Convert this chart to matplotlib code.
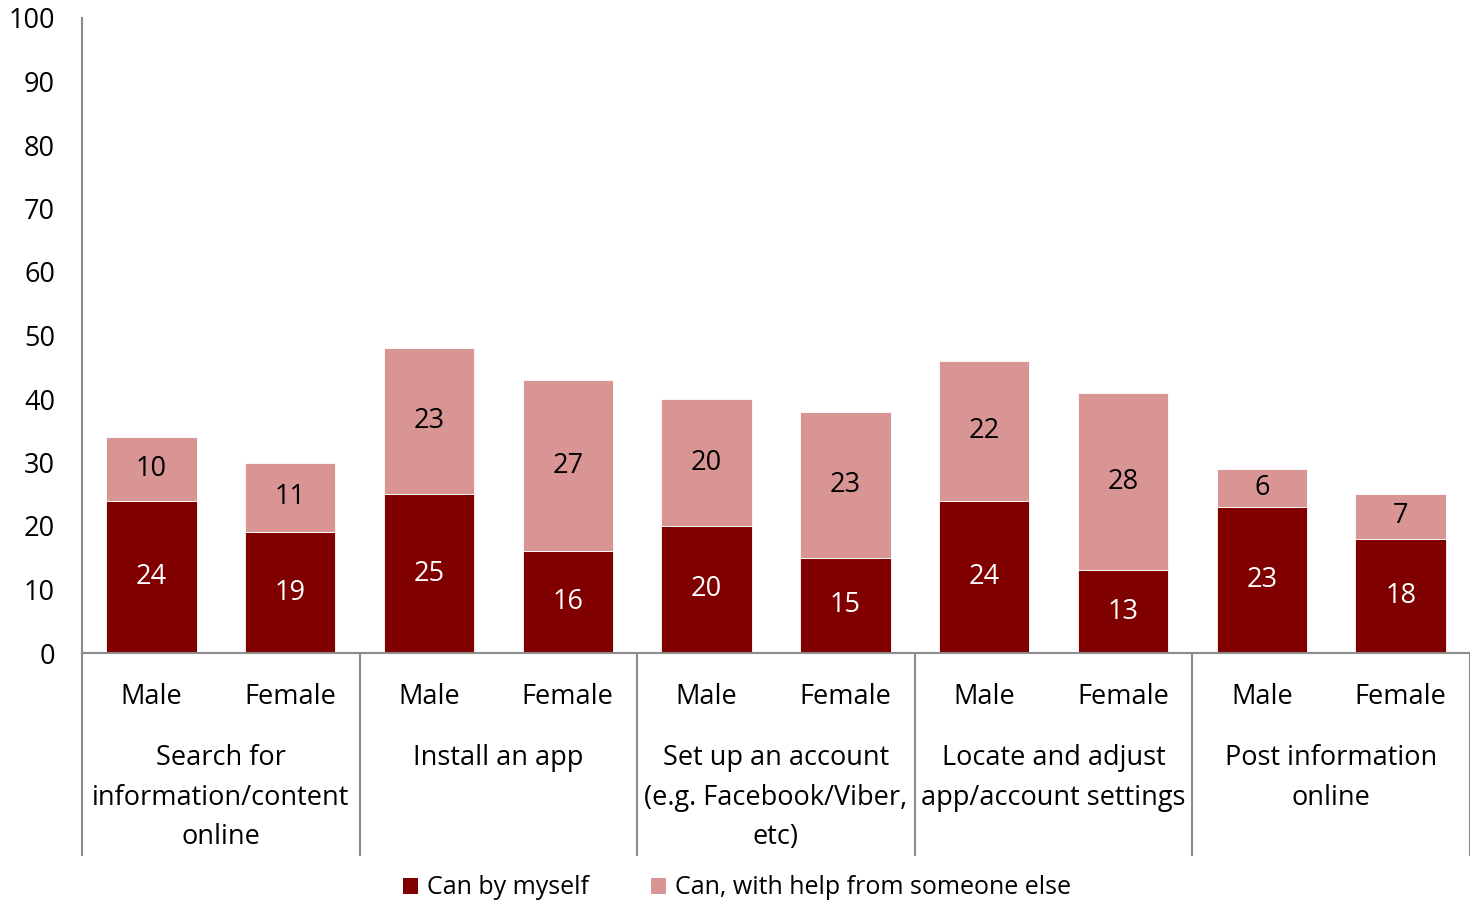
import matplotlib
matplotlib.use("Agg")
import matplotlib.pyplot as plt
from matplotlib.patches import Patch
import numpy as np

plt.rcParams['font.family'] = ['Open Sans', 'DejaVu Sans']

# Survey results, Male / Female pairs for each activity
activities = ["Search for\ninformation/content\nonline",
              "Install an app",
              "Set up an account\n(e.g. Facebook/Viber,\netc)",
              "Locate and adjust\napp/account settings",
              "Post information\nonline"]
genders = ["Male", "Female"]
by_myself = [24, 19, 25, 16, 20, 15, 24, 13, 23, 18]
with_help = [10, 11, 23, 27, 20, 23, 22, 28, 6, 7]

dark_red = "#800000"
pink = "#D99594"
grey = "#8C8C8C"
fs = 19.5

fig = plt.figure(figsize=(14.7, 9.01), dpi=100)
ax = fig.add_axes([82 / 1470, 1 - 653 / 901, 1 - 82 / 1470, (653 - 18) / 901])

x = np.arange(len(by_myself))
bars1 = ax.bar(x, by_myself, width=0.65, color=dark_red, edgecolor="white", linewidth=0.6)
bars2 = ax.bar(x, with_help, width=0.65, bottom=by_myself, color=pink,
               edgecolor="white", linewidth=0.6)

# value labels inside each segment
for xi, a, b in zip(x, by_myself, with_help):
    ax.text(xi, a / 2, str(a), ha="center", va="center", color="white", fontsize=fs)
    ax.text(xi, a + b / 2, str(b), ha="center", va="center", color="black", fontsize=fs)

ax.set_xlim(-0.5, len(x) - 0.5)
ax.set_ylim(0, 100)
ax.set_yticks(range(0, 101, 10))
ax.tick_params(axis="y", length=0, pad=19.5, labelsize=fs)
ax.set_xticks([])
for side in ["top", "right"]:
    ax.spines[side].set_visible(False)
ax.spines["left"].set_color(grey)
ax.spines["bottom"].set_color(grey)
ax.spines["left"].set_linewidth(1.5)
ax.spines["bottom"].set_linewidth(1.5)

# two-level category axis below the bars
trans = ax.get_xaxis_transform()
px = 1 / ((653 - 18))  # one pixel in axes-height units
for xi in x:
    ax.text(xi, -44 * px, genders[xi % 2], transform=trans, ha="center", va="center",
            fontsize=fs, clip_on=False)
for i, label in enumerate(activities):
    ax.text(2 * i + 0.5, -91 * px, label, transform=trans, ha="center", va="top",
            fontsize=fs, linespacing=1.55, clip_on=False)
for i in range(len(activities) + 1):
    ax.plot([2 * i - 0.5, 2 * i - 0.5], [0, -202 * px], transform=trans,
            color=grey, linewidth=1.5, clip_on=False)

handles = [Patch(facecolor=dark_red, label="Can by myself"),
           Patch(facecolor=pink, label="Can, with help from someone else")]
fig.legend(handles=handles, loc="center", bbox_to_anchor=(737 / 1470, 1 - 888 / 901),
           ncol=2, frameon=False, fontsize=18, handlelength=0.6, handleheight=0.6,
           handletextpad=0.35, columnspacing=2.5)

fig.savefig("out.png", dpi=100)
